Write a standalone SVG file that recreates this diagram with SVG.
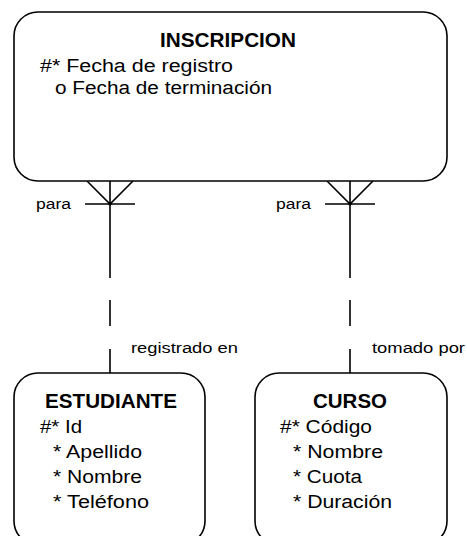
<svg xmlns="http://www.w3.org/2000/svg" width="467" height="536" viewBox="0 0 467 536">
<style>
.box{fill:#fff;stroke:#000;stroke-width:1.6}
.t{font-family:"Liberation Sans",Arial,sans-serif;font-size:18px;fill:#000}
.h{font-family:"Liberation Sans",Arial,sans-serif;font-size:19.5px;font-weight:bold;fill:#000}
.l{font-family:"Liberation Sans",Arial,sans-serif;font-size:14px;fill:#000}
.ln{stroke:#000;stroke-width:1.6;fill:none}
</style>
<rect width="467" height="536" fill="#fff"/>
<g id="connectors">
  <g id="rel-estudiante">
    <path class="ln" d="M87,181 L110,204 L133,181 M85,204 H135 M110,181 V278 M110,300 V326 M110,349 V373"/>
    <circle cx="110" cy="204" r="1.6" fill="#000"/>
    <text class="l" x="36" y="208.5" textLength="35" lengthAdjust="spacingAndGlyphs">para</text>
    <text class="l" x="131" y="352.5" textLength="107" lengthAdjust="spacingAndGlyphs">registrado en</text>
  </g>
  <g id="rel-curso">
    <path class="ln" d="M327,181 L350,204 L373,181 M325,204 H375 M350,181 V278 M350,300 V326 M350,349 V373"/>
    <circle cx="350" cy="204" r="1.6" fill="#000"/>
    <text class="l" x="276" y="208.5" textLength="35" lengthAdjust="spacingAndGlyphs">para</text>
    <text class="l" x="372" y="352.5" textLength="93" lengthAdjust="spacingAndGlyphs">tomado por</text>
  </g>
</g>
<g id="inscripcion">
  <rect class="box" x="14" y="12" width="433" height="169" rx="24" ry="24"/>
  <text class="h" x="160" y="47" textLength="136" lengthAdjust="spacingAndGlyphs">INSCRIPCION</text>
  <text class="t" x="40" y="71.5" textLength="193" lengthAdjust="spacingAndGlyphs">#* Fecha de registro</text>
  <text class="t" x="55" y="94" textLength="217" lengthAdjust="spacingAndGlyphs">o Fecha de terminación</text>
</g>
<g id="estudiante">
  <rect class="box" x="14" y="373" width="191" height="172" rx="24" ry="24"/>
  <text class="h" x="45" y="408" textLength="132" lengthAdjust="spacingAndGlyphs">ESTUDIANTE</text>
  <text class="t" x="40" y="433" textLength="42" lengthAdjust="spacingAndGlyphs">#* Id</text>
  <text class="t" x="53" y="457.5" textLength="89" lengthAdjust="spacingAndGlyphs">* Apellido</text>
  <text class="t" x="53" y="482.5" textLength="89" lengthAdjust="spacingAndGlyphs">* Nombre</text>
  <text class="t" x="53" y="508" textLength="96" lengthAdjust="spacingAndGlyphs">* Teléfono</text>
</g>
<g id="curso">
  <rect class="box" x="255" y="373" width="192" height="172" rx="24" ry="24"/>
  <text class="h" x="313" y="408" textLength="74" lengthAdjust="spacingAndGlyphs">CURSO</text>
  <text class="t" x="280" y="433" textLength="92" lengthAdjust="spacingAndGlyphs">#* Código</text>
  <text class="t" x="293" y="457.5" textLength="90" lengthAdjust="spacingAndGlyphs">* Nombre</text>
  <text class="t" x="293" y="482.5" textLength="69" lengthAdjust="spacingAndGlyphs">* Cuota</text>
  <text class="t" x="293" y="508" textLength="99" lengthAdjust="spacingAndGlyphs">* Duración</text>
</g>
</svg>
